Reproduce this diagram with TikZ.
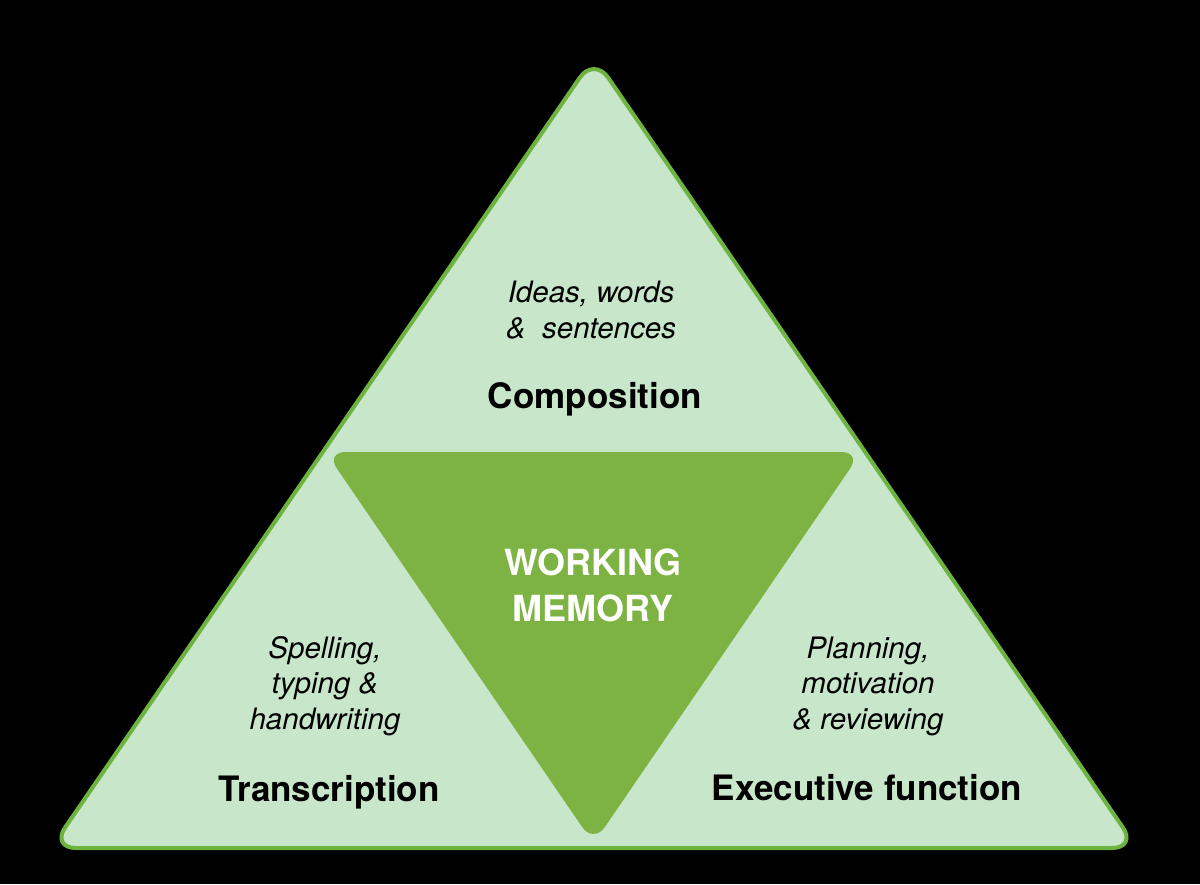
\documentclass[tikz,border=0pt]{standalone}
\usepackage{fontspec}
\setmainfont{TeX Gyre Heros}
\definecolor{lightfill}{HTML}{C8E6C9}
\definecolor{rimgreen}{HTML}{6DB33F}
\definecolor{coregreen}{HTML}{7CB342}
\begin{document}
\begin{tikzpicture}[x=1pt,y=-1pt,
  outer/.style={fill=lightfill, draw=rimgreen, line width=4pt, rounded corners=25pt, line join=round},
  inner/.style={fill=coregreen, rounded corners=20pt},
  note/.style={font=\fontsize{29.5}{35.5}\selectfont\itshape, align=center, anchor=base, text=black, inner sep=0pt},
  title/.style={font=\fontsize{35}{42}\selectfont\bfseries, anchor=base, text=black, inner sep=0pt},
  core/.style={font=\fontsize{36}{46}\selectfont\bfseries, text=white, align=center, anchor=base, inner sep=0pt}]
\fill[black] (0,0) rectangle (1200,884);
\useasboundingbox (0,0) rectangle (1200,884);
\draw[outer] (594,57) -- (1137,848) -- (51,848) -- cycle;
\fill[inner] (325.6,452) -- (861.4,452) -- (593.5,843.6) -- cycle;
\node[note] (ideas) at (591,338) {Ideas, words\\\&\ \ sentences};
\node[title] (comp) at (595,408) {Composition};
\node[core] (wm) at (593,621) {WORKING\\MEMORY};
\node[note] (spell) at (325,729) {Spelling,\\typing \&\\handwriting};
\node[title] (trans) at (329,801) {Transcription};
\node[note] (plan) at (868,729) {Planning,\\motivation\\\& reviewing};
\node[title] (exec) at (867,800) {Executive function};
\end{tikzpicture}
\end{document}
